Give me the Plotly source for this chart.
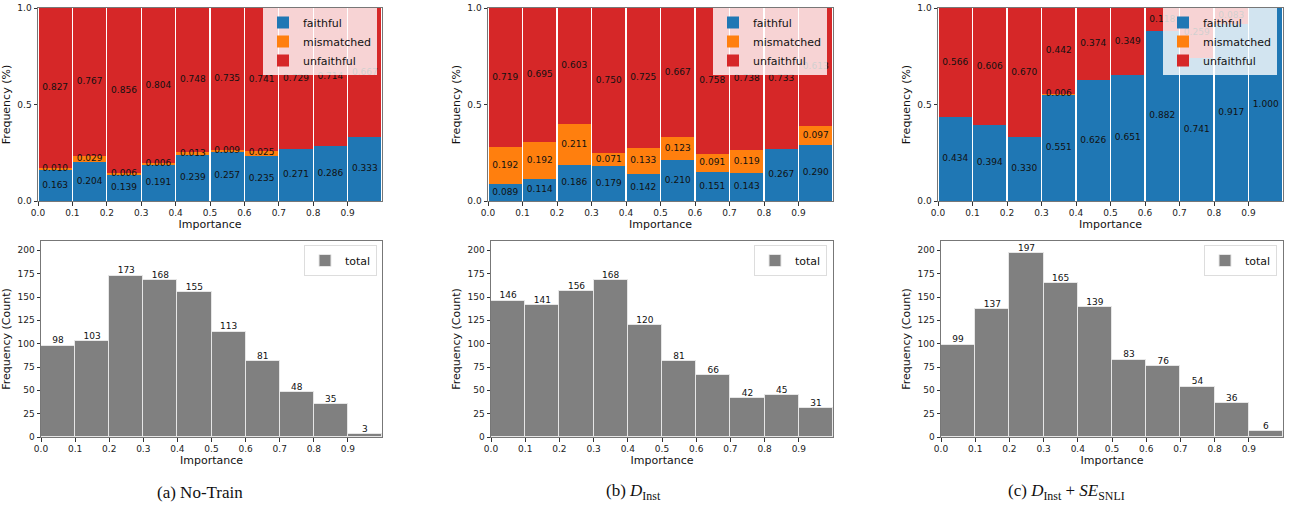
import plotly.graph_objects as go

# ---------------- data ----------------
bins = [0.0, 0.1, 0.2, 0.3, 0.4, 0.5, 0.6, 0.7, 0.8, 0.9]
tick_labels = ["0.0", "0.1", "0.2", "0.3", "0.4", "0.5", "0.6", "0.7", "0.8", "0.9"]

a_faithful = [0.163, 0.204, 0.139, 0.191, 0.239, 0.257, 0.235, 0.271, 0.286, 0.333]
a_mismatched = [0.010, 0.029, 0.006, 0.006, 0.013, 0.009, 0.025, 0, 0, 0]
a_unfaithful = [0.827, 0.767, 0.856, 0.804, 0.748, 0.735, 0.741, 0.729, 0.714, 0.667]
a_total = [98, 103, 173, 168, 155, 113, 81, 48, 35, 3]

b_faithful = [0.089, 0.114, 0.186, 0.179, 0.142, 0.210, 0.151, 0.143, 0.267, 0.290]
b_mismatched = [0.192, 0.192, 0.211, 0.071, 0.133, 0.123, 0.091, 0.119, 0, 0.097]
b_unfaithful = [0.719, 0.695, 0.603, 0.750, 0.725, 0.667, 0.758, 0.738, 0.733, 0.613]
b_total = [146, 141, 156, 168, 120, 81, 66, 42, 45, 31]

c_faithful = [0.434, 0.394, 0.330, 0.551, 0.626, 0.651, 0.882, 0.741, 0.917, 1.000]
c_mismatched = [0, 0, 0, 0.006, 0, 0, 0, 0, 0, 0]
c_unfaithful = [0.566, 0.606, 0.670, 0.442, 0.374, 0.349, 0.118, 0.259, 0.083, 0]
c_total = [99, 137, 197, 165, 139, 83, 76, 54, 36, 6]

series_names = ["faithful", "mismatched", "unfaithful"]
series_colors = ["#1f77b4", "#ff7f0e", "#d62728"]
captions = ["(a) No-Train",
            "(b) <i>D</i><sub>Inst</sub>",
            "(c) <i>D</i><sub>Inst</sub> + <i>SE</i><sub>SNLI</sub>"]

panels = [
    (a_faithful, a_mismatched, a_unfaithful, a_total),
    (b_faithful, b_mismatched, b_unfaithful, b_total),
    (c_faithful, c_mismatched, c_unfaithful, c_total),
]

# ---------------- layout geometry (pixels) ----------------
W, H = 1289, 514
top_x = [(38, 382), (488, 833), (938, 1283)]
bot_x = [(41, 382), (491, 833), (941, 1283)]
top_y = (8, 201)
bot_y = (241, 437)
top_leg = [(377, 8), (827, 8), (1277, 8)]
bot_leg = [(377, 245), (827, 245), (1277, 245)]
caption_x = [200, 633, 1066]


def xd(p):
    return (p[0] / W, p[1] / W)


def yd(p):
    return (1 - p[1] / H, 1 - p[0] / H)


FONT = "DejaVu Sans, sans-serif"
fig = go.Figure()
centers = [b + 0.05 for b in bins]

layout = dict(
    width=W, height=H,
    margin=dict(l=0, r=0, t=0, b=0, autoexpand=False),
    paper_bgcolor="white", plot_bgcolor="white",
    barmode="stack", bargap=0,
    font=dict(family=FONT, size=9, color="#222"),
    showlegend=True,
)

axis_common = dict(
    automargin=False,
    showgrid=False, zeroline=False, ticks="outside", ticklen=3.5,
    tickcolor="#333", tickwidth=1, showline=True, linecolor="#777",
    linewidth=1, mirror=True, tickfont=dict(size=9, color="#222", family=FONT),
)

annotations = []
for i, (f, m, u, tot) in enumerate(panels):
    ti = i + 1          # top axis index
    bi = i + 4          # bottom axis index
    xt = "x" if ti == 1 else f"x{ti}"
    yt = "y" if ti == 1 else f"y{ti}"
    xb = f"x{bi}"
    yb = f"y{bi}"
    leg_t = "legend" if ti == 1 else f"legend{ti}"
    leg_b = f"legend{bi}"

    # stacked proportion bars
    vals = [f, m, u]
    base = [0.0] * len(bins)
    label_x, label_y, label_t = [], [], []
    for name, col, v in zip(series_names, series_colors, vals):
        fig.add_trace(go.Bar(
            x=centers, y=v, width=0.0965, name=name,
            marker=dict(color=col, line=dict(width=0)),
            xaxis=xt, yaxis=yt, legend=leg_t, hoverinfo="skip",
        ))
        for k in range(len(bins)):
            if v[k] > 0:
                label_x.append(centers[k])
                label_y.append(base[k] + v[k] / 2)
                label_t.append(f"{v[k]:.3f}")
            base[k] += v[k]
    fig.add_trace(go.Scatter(
        x=label_x, y=label_y, text=label_t, mode="text",
        textfont=dict(size=9, color="#111", family=FONT),
        xaxis=xt, yaxis=yt, showlegend=False, hoverinfo="skip",
    ))

    # count histogram
    fig.add_trace(go.Bar(
        x=centers, y=tot, width=0.1, name="total",
        marker=dict(color="#808080", line=dict(color="#e6e6e6", width=1)),
        xaxis=xb, yaxis=yb, legend=leg_b, hoverinfo="skip",
    ))
    fig.add_trace(go.Scatter(
        x=centers, y=tot, text=[str(t) for t in tot], mode="text",
        textposition="top center",
        textfont=dict(size=9, color="#111", family=FONT),
        xaxis=xb, yaxis=yb, showlegend=False, hoverinfo="skip",
    ))

    kx_t = "xaxis" if ti == 1 else f"xaxis{ti}"
    ky_t = "yaxis" if ti == 1 else f"yaxis{ti}"
    layout[kx_t] = dict(axis_common, domain=xd(top_x[i]), anchor=yt, range=[0, 1],
                        tickvals=bins, ticktext=tick_labels,
                        title=dict(text="Importance", font=dict(size=11, family=FONT, color="#111"), standoff=2))
    layout[ky_t] = dict(axis_common, domain=yd(top_y), anchor=xt, range=[0, 1],
                        tickvals=[0, 0.5, 1.0], ticktext=["0.0", "0.5", "1.0"],
                        title=dict(text="Frequency (%)", font=dict(size=11, family=FONT, color="#111"), standoff=4))
    layout[f"xaxis{bi}"] = dict(axis_common, domain=xd(bot_x[i]), anchor=yb, range=[0, 1],
                                tickvals=bins, ticktext=tick_labels,
                                title=dict(text="Importance", font=dict(size=11, family=FONT, color="#111"), standoff=2))
    layout[f"yaxis{bi}"] = dict(axis_common, domain=yd(bot_y), anchor=xb, range=[0, 210],
                                tickvals=[0, 25, 50, 75, 100, 125, 150, 175, 200],
                                title=dict(text="Frequency (Count)", font=dict(size=11, family=FONT, color="#111"), standoff=4))

    legend_common = dict(
        bgcolor="rgba(255,255,255,0.8)", bordercolor="#dddddd", borderwidth=0,
        font=dict(size=11, family=FONT, color="#111"),
        xanchor="right", yanchor="top", itemwidth=30,
        tracegroupgap=0, traceorder="normal",
    )
    layout[leg_t] = dict(legend_common, x=top_leg[i][0] / W, y=1 - top_leg[i][1] / H)
    layout[leg_b] = dict(legend_common, x=bot_leg[i][0] / W, y=1 - bot_leg[i][1] / H,
                         borderwidth=1)

    annotations.append(dict(
        text=captions[i], x=caption_x[i] / W, y=1 - 492 / H, xref="paper", yref="paper",
        showarrow=False, xanchor="center", yanchor="middle",
        font=dict(family="Liberation Serif, serif", size=17, color="#111"),
    ))

layout["annotations"] = annotations
fig.update_layout(**layout)
fig.write_html(
    "out.html",
    config={"displayModeBar": False},
    post_script="document.body.style.margin='0';document.body.style.overflow='hidden';",
)
